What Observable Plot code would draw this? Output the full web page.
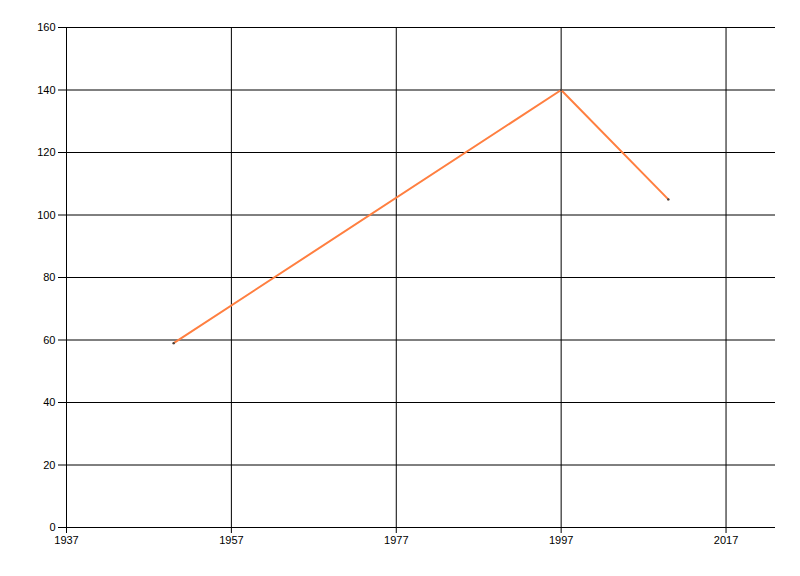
<!DOCTYPE html>
<html>
<head>
<meta charset="utf-8">
<script src="https://cdn.jsdelivr.net/npm/d3@7"></script>
<script src="https://cdn.jsdelivr.net/npm/@observablehq/plot@0.6"></script>
<style>
  html, body { margin: 0; padding: 0; background: #fff; }
  #chart svg { display: block; }
</style>
</head>
<body>
<div id="chart"></div>
<script>
const years = [1950, 1997, 2010];
const values = [59, 140, 105];
const xTicks = [1937, 1957, 1977, 1997, 2017];
const yTicks = [0, 20, 40, 60, 80, 100, 120, 140, 160];

const data = years.map((y, i) => ({year: y, value: values[i]}));

const chart = Plot.plot({
  width: 800,
  height: 576,
  marginLeft: 66,
  marginRight: 25,
  marginTop: 27,
  marginBottom: 49,
  style: {fontFamily: "'Liberation Sans', Arial, sans-serif", fontSize: "11px", color: "#000", background: "#fff"},
  x: {domain: [1937, 2023], ticks: xTicks, tickFormat: d => String(d), tickSize: 6, tickPadding: 3, label: null},
  y: {domain: [0, 160], ticks: yTicks, tickSize: 8, tickPadding: 3, label: null},
  marks: [
    Plot.ruleY(yTicks, {stroke: "#000", strokeWidth: 1, strokeOpacity: 1}),
    Plot.ruleX(xTicks, {stroke: "#000", strokeWidth: 1, strokeOpacity: 1}),
    Plot.axisX({ticks: xTicks, tickFormat: d => String(d), tickSize: 6, tickPadding: 3, stroke: "#000", strokeOpacity: 1}),
    Plot.axisY({ticks: yTicks, tickSize: 8, tickPadding: 3, stroke: "#000", strokeOpacity: 1}),
    Plot.line(data, {x: "year", y: "value", stroke: "#ff7f40", strokeWidth: 2}),
    Plot.dot(data, {x: "year", y: "value", r: 1.2, fill: "#444", stroke: "none"})
  ]
});
document.getElementById("chart").appendChild(chart);
</script>
</body>
</html>
